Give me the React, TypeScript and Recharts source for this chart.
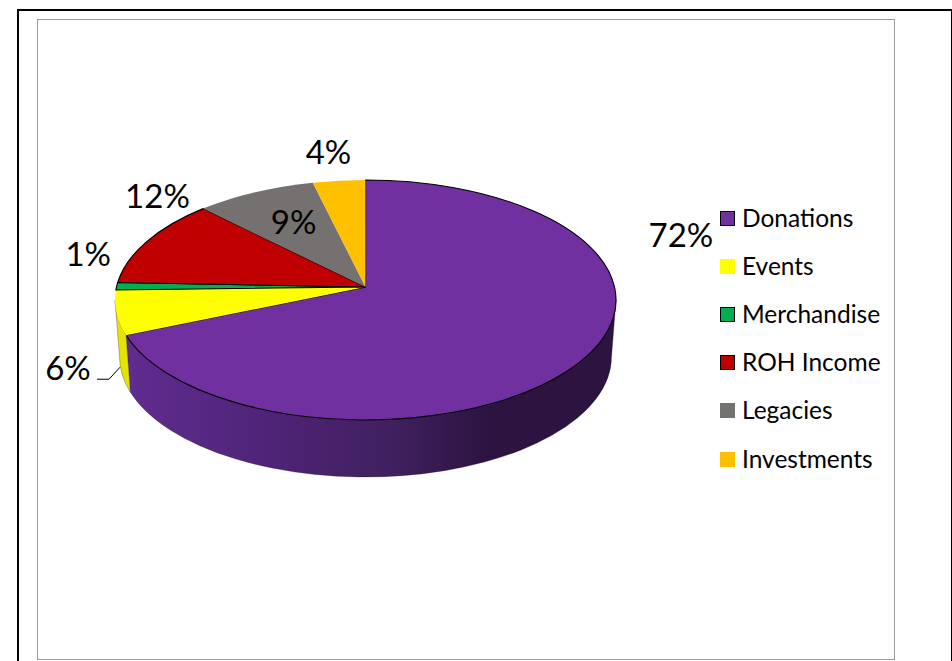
import React from "react";
import { PieChart, Pie, Cell, Legend } from "recharts";

const categories = ["Donations", "Events", "Merchandise", "ROH Income", "Legacies", "Investments"];
const percentages = [72, 6, 1, 12, 9, 4];

const fills = ["#7030A0", "#FFFF00", "#00B050", "#C00000", "#767171", "#FFC000"];
const outlined = [true, false, true, true, false, false];
const sideFills = ["url(#sidePurple)", "#E4E400", "#008040", "#900000", "#595555", "#BF9000"];
// label placement relative to the slice's mid-rim point
const labelOffsets: [number, number][] = [
  [102.5, -129.6],
  [-48.4, 54.5],
  [-28.4, -33],
  [10, -46],
  [38, 28.7],
  [-10.6, -29.7],
];

const rows = categories.map((name, i) => ({ name, value: percentages[i] }));

const FONT = "Lato, Carlito, sans-serif";
const W = 952;
const H = 661;
const CX = 365.5;
const CY = 287;
const RX = 250.5;
const RY_RATIO = 120 / 250.5;
const RIM_DROP = 13; // rim centre sits below the apex (perspective)
const BOTTOM_RX_RATIO = 246 / 250.5;
const BOTTOM_DROP = 70;
const SKEW = 4.8;
const SKEW2 = 1.2;

const rad = (d: number) => (d * Math.PI) / 180;
const toRim = (clockwise: number) =>
  clockwise - SKEW * Math.sin(rad(clockwise)) - SKEW2 * Math.sin(rad(2 * clockwise));
const pt = (t: number, cx: number, cy: number, rx: number, ry: number) => ({
  x: cx + rx * Math.sin(rad(t)),
  y: cy - ry * Math.cos(rad(t)),
});

function SliceShape(props: any) {
  const { cx, cy, outerRadius, startAngle, endAngle, fill, index } = props;
  const rx = outerRadius;
  const ry = rx * RY_RATIO;
  const t1 = toRim(90 - startAngle);
  const t2 = toRim(90 - endAngle);
  const topCy = cy + RIM_DROP;
  const a = pt(t1, cx, topCy, rx, ry);
  const b = pt(t2, cx, topCy, rx, ry);
  const large = t2 - t1 > 180 ? 1 : 0;
  const top = `M${cx},${cy}L${a.x},${a.y}A${rx},${ry} 0 ${large} 1 ${b.x},${b.y}Z`;

  const s1 = Math.max(t1, 90);
  const s2 = Math.min(t2, 270);
  let side: string | null = null;
  if (s2 > s1) {
    const bx = rx * BOTTOM_RX_RATIO;
    const botCy = cy + BOTTOM_DROP;
    const p = pt(s1, cx, topCy, rx, ry);
    const q = pt(s2, cx, topCy, rx, ry);
    const r = pt(s2, cx, botCy, bx, ry);
    const u = pt(s1, cx, botCy, bx, ry);
    side = `M${p.x},${p.y}A${rx},${ry} 0 0 1 ${q.x},${q.y}L${r.x},${r.y}A${bx},${ry} 0 0 0 ${u.x},${u.y}Z`;
  }
  return (
    <g>
      {side && <path d={side} fill={sideFills[index]} stroke="#1c0c2c" strokeWidth={0.3} />}
      <path
        d={top}
        fill={fill}
        stroke={outlined[index] ? "#000" : "none"}
        strokeWidth={outlined[index] ? 1.1 : 0}
      />
    </g>
  );
}

function SliceLabel(props: any) {
  const { cx, cy, outerRadius, midAngle, index } = props;
  const t = toRim(90 - midAngle);
  const m = pt(t, cx, cy + RIM_DROP, outerRadius, outerRadius * RY_RATIO);
  const x = m.x + labelOffsets[index][0];
  const y = m.y + labelOffsets[index][1];
  return (
    <g>
      {index === 1 && (
        <polyline
          points={`${x + 29},${y + 12} ${x + 41},${y + 12} ${x + 52},${y}`}
          fill="none"
          stroke="#000"
          strokeWidth={1}
        />
      )}
      <text
        x={x}
        y={y}
        textAnchor="middle"
        dominantBaseline="central"
        fontFamily={FONT}
        fontSize={33}
        fill="#000"
      >
        {percentages[index]}%
      </text>
    </g>
  );
}

function LegendBox(props: any) {
  const items = props.payload || [];
  return (
    <div style={{ fontFamily: FONT, fontSize: 24.5, color: "#000" }}>
      {items.map((it: any, i: number) => (
        <div
          key={it.value}
          style={{ display: "flex", alignItems: "center", height: 48.2, whiteSpace: "nowrap" }}
        >
          <span
            style={{
              width: 15,
              height: 15,
              boxSizing: "border-box",
              background: fills[i],
              border: outlined[i] ? "1.5px solid #000" : "none",
              marginRight: 7,
              flex: "none",
            }}
          />
          <span style={{ position: "relative", top: -1 }}>{it.value}</span>
        </div>
      ))}
    </div>
  );
}

export default function App() {
  return (
    <div style={{ position: "fixed", left: 0, top: 0, width: W, height: H, overflow: "hidden", background: "#fff" }}>
      <div style={{ position: "absolute", left: 17, top: 9, width: 932, height: 700, border: "2px solid #000", boxSizing: "content-box" }} />
      <div style={{ position: "absolute", left: 37, top: 19, width: 855.5, height: 638.5, border: "1.5px solid #9a9a9a" }} />
      <div style={{ position: "absolute", left: 0, top: 0 }}>
        <PieChart width={W} height={H} margin={{ top: 0, right: 0, bottom: 0, left: 0 }}>
          <defs>
            <linearGradient id="sidePurple" gradientUnits="userSpaceOnUse" x1={115} x2={616} y1={0} y2={0}>
              <stop offset="0" stopColor="#622D92" />
              <stop offset="0.3" stopColor="#4F2478" />
              <stop offset="0.55" stopColor="#40205F" />
              <stop offset="0.75" stopColor="#2C1340" />
              <stop offset="1" stopColor="#2C1340" />
            </linearGradient>
          </defs>
          <Pie
            data={rows}
            dataKey="value"
            nameKey="name"
            cx={CX}
            cy={CY}
            innerRadius={0}
            outerRadius={RX}
            startAngle={90}
            endAngle={-270}
            paddingAngle={0}
            stroke="none"
            isAnimationActive={false}
            shape={SliceShape}
            label={SliceLabel}
            labelLine={false}
          >
            {rows.map((r, i) => (
              <Cell key={r.name} fill={fills[i]} />
            ))}
          </Pie>
          <Legend
            content={LegendBox}
            layout="vertical"
            itemSorter={null}
            wrapperStyle={{ position: "absolute", left: 720, top: 194, width: 200, height: 290 }}
          />
        </PieChart>
      </div>
    </div>
  );
}
